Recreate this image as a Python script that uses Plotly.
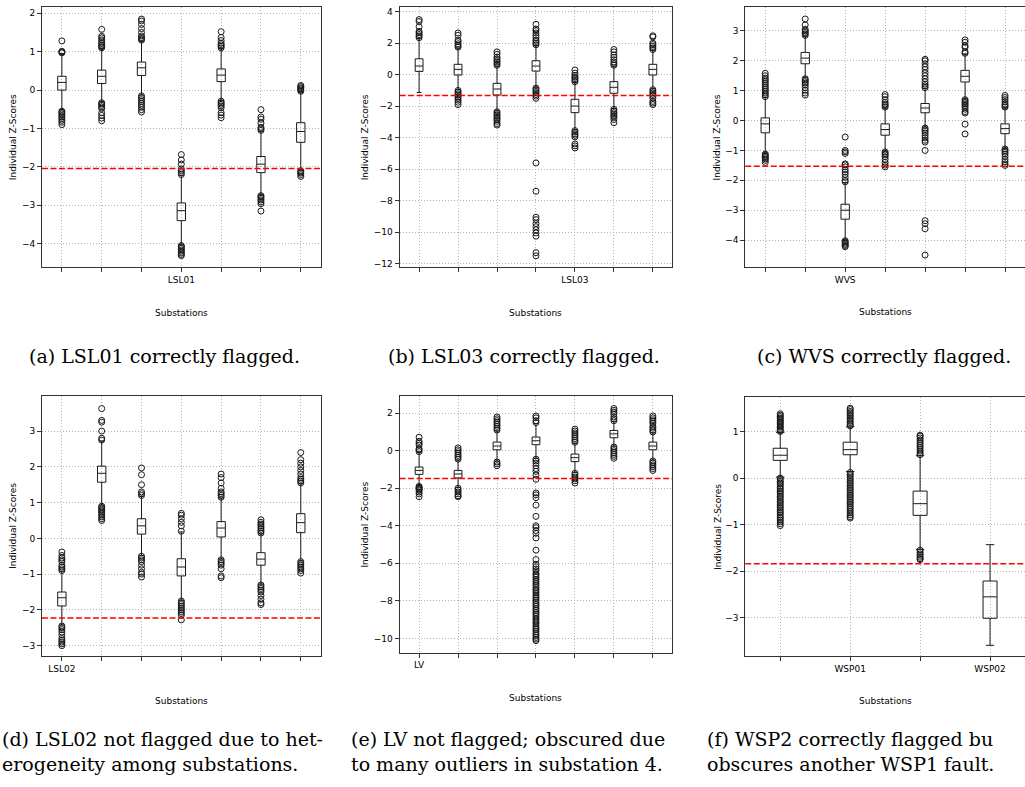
import plotly.graph_objects as go

# ---------------- data ----------------
# (a) LSL01
A_POS = [1, 2, 3, 4, 5, 6, 7]
A_TICKS = ["", "", "", "LSL01", "", "", ""]
A_Q1 = [0.00, 0.17, 0.38, -3.40, 0.22, -2.15, -1.36]
A_MED = [0.20, 0.36, 0.58, -3.14, 0.39, -1.93, -1.08]
A_Q3 = [0.36, 0.52, 0.73, -2.94, 0.55, -1.73, -0.85]
A_LO = [-0.52, -0.31, -0.13, -4.03, -0.27, -2.73, -2.08]
A_HI = [0.95, 1.08, 1.28, -2.22, 1.08, -1.07, -0.05]
A_OUT = [
    [0.97, 0.99, 1.01, 1.28, -0.55, -0.58, -0.62, -0.66, -0.70, -0.74, -0.79, -0.84, -0.90],
    [1.10, 1.13, 1.17, 1.21, 1.26, 1.31, 1.36, 1.40, 1.58, -0.33, -0.36, -0.40, -0.44, -0.48, -0.59, -0.66, -0.73, -0.80],
    [1.30, 1.33, 1.37, 1.41, 1.50, 1.60, 1.71, 1.80, 1.85, -0.15, -0.20, -0.25, -0.30, -0.35, -0.40, -0.45, -0.51, -0.57],
    [-2.20, -2.15, -2.10, -2.05, -1.93, -1.82, -1.68, -4.05, -4.08, -4.12, -4.16, -4.20, -4.24, -4.28, -4.31],
    [1.10, 1.14, 1.18, 1.22, 1.29, 1.37, 1.52, -0.29, -0.33, -0.37, -0.41, -0.46, -0.59, -0.65, -0.72],
    [-1.05, -1.01, -0.97, -0.86, -0.76, -0.70, -0.51, -2.75, -2.78, -2.82, -2.86, -2.91, -2.96, -3.15],
    [-0.03, 0.00, 0.03, 0.06, 0.09, 0.12, -2.10, -2.13, -2.16, -2.20, -2.25],
]
A_THR = -2.04

# (b) LSL03
B_POS = [1, 2, 3, 4, 5, 6, 7]
B_TICKS = ["", "", "", "", "LSL03", "", ""]
B_Q1 = [0.21, -0.02, -1.29, 0.23, -2.41, -1.18, -0.02]
B_MED = [0.55, 0.34, -0.91, 0.55, -1.99, -0.80, 0.34]
B_Q3 = [1.01, 0.66, -0.55, 0.89, -1.56, -0.44, 0.66]
B_LO = [-1.13, -0.95, -2.30, -0.80, -3.50, -2.15, -0.90]
B_HI = [2.30, 1.70, 0.55, 1.85, -0.50, 0.55, 1.55]
B_OUT = [
    [2.35, 2.45, 2.55, 2.66, 2.75, 3.05, 3.38, 3.50],
    [1.75, 1.85, 1.96, 2.10, 2.20, 2.50, 2.65, -1.00, -1.10, -1.21, -1.30, -1.41, -1.50, -1.62, -1.75, -1.90],
    [0.60, 0.70, 0.81, 0.90, 1.01, 1.12, 1.30, 1.45, -2.35, -2.45, -2.56, -2.65, -2.76, -2.85, -2.96, -3.10, -3.20],
    [1.90, 2.00, 2.11, 2.20, 2.35, 2.50, 2.65, 2.80, 2.90, 3.20, -0.85, -0.95, -1.06, -1.15, -1.26, -1.36, -1.50,
     -5.60, -7.40, -9.05, -9.20, -9.45, -9.65, -9.85, -10.05, -10.25, -11.30, -11.50],
    [-0.45, -0.35, -0.25, -0.16, -0.05, 0.10, 0.30, -3.55, -3.65, -3.76, -3.85, -3.95, -4.40, -4.52, -4.65],
    [0.60, 0.70, 0.81, 0.95, 1.10, 1.25, 1.45, 1.60, -2.20, -2.30, -2.41, -2.50, -2.61, -2.70, -2.85, -3.05],
    [1.60, 1.70, 1.80, 1.91, 2.00, 2.40, 2.47, -0.95, -1.05, -1.16, -1.25, -1.36, -1.50, -1.70, -1.80, -1.90],
]
B_THR = -1.32

# (c) WVS
C_POS = [1, 2, 3, 4, 5, 6, 7]
C_TICKS = ["", "", "WVS", "", "", "", ""]
C_Q1 = [-0.41, 1.90, -3.30, -0.49, 0.26, 1.29, -0.44]
C_MED = [-0.11, 2.09, -3.00, -0.30, 0.42, 1.48, -0.27]
C_Q3 = [0.09, 2.28, -2.80, -0.11, 0.57, 1.68, -0.11]
C_LO = [-1.10, 1.45, -4.00, -1.03, -0.22, 0.72, -0.93]
C_HI = [0.78, 2.83, -2.07, 0.43, 1.08, 2.23, 0.43]
C_OUT = [
    [0.80, 0.86, 0.92, 0.99, 1.05, 1.11, 1.17, 1.24, 1.30, 1.36, 1.42, 1.50, 1.58, -1.12, -1.16, -1.20, -1.24, -1.28, -1.33, -1.40],
    [2.85, 2.90, 2.95, 3.00, 3.05, 3.20, 3.40, 1.40, 1.35, 1.30, 1.25, 1.19, 1.10, 1.01, 0.92, 0.85],
    [-2.05, -2.00, -1.90, -1.80, -1.72, -1.65, -1.55, -1.48, -1.45, -1.10, -1.05, -1.00, -0.55, -4.02, -4.06, -4.10, -4.14, -4.18, -4.22],
    [0.45, 0.50, 0.55, 0.61, 0.70, 0.80, 0.87, -1.05, -1.10, -1.15, -1.21, -1.30, -1.40, -1.49, -1.55],
    [1.10, 1.16, 1.22, 1.30, 1.40, 1.50, 1.60, 1.71, 1.80, 1.90, 2.00, 2.05, -0.25, -0.30, -0.36, -0.42, -0.50, -0.58,
     -0.66, -0.72, -1.00, -3.35, -3.45, -3.62, -4.50],
    [2.25, 2.30, 2.45, 2.50, 2.62, 2.70, 0.70, 0.65, 0.60, 0.55, 0.50, 0.45, 0.38, 0.30, 0.25, -0.12, -0.45],
    [0.45, 0.50, 0.55, 0.62, 0.70, 0.77, 0.84, -0.95, -1.00, -1.06, -1.12, -1.20, -1.30, -1.38, -1.45, -1.50],
]
C_THR = -1.53

# (d) LSL02
D_POS = [1, 2, 3, 4, 5, 6, 7]
D_TICKS = ["LSL02", "", "", "", "", "", ""]
D_Q1 = [-1.89, 1.57, 0.12, -1.05, 0.04, -0.75, 0.16]
D_MED = [-1.66, 1.82, 0.35, -0.80, 0.29, -0.58, 0.44]
D_Q3 = [-1.50, 2.02, 0.55, -0.57, 0.47, -0.40, 0.69]
D_LO = [-2.42, 0.93, -0.48, -1.73, -0.58, -1.28, -0.63]
D_HI = [-0.92, 2.72, 1.18, 0.18, 1.13, 0.13, 1.53]
D_OUT = [
    [-0.90, -0.85, -0.80, -0.75, -0.65, -0.60, -0.55, -0.48, -0.38, -2.45, -2.50, -2.55, -2.62, -2.70, -2.80, -2.85, -2.90, -2.95, -3.00],
    [2.75, 2.80, 3.00, 3.25, 3.30, 3.63, 0.90, 0.86, 0.82, 0.78, 0.74, 0.70, 0.65, 0.60, 0.55, 0.50],
    [1.20, 1.25, 1.30, 1.50, 1.78, 1.97, -0.50, -0.55, -0.60, -0.65, -0.75, -0.85, -0.95, -1.00, -1.08],
    [0.20, 0.35, 0.45, 0.55, 0.65, 0.70, -1.75, -1.80, -1.85, -1.90, -1.95, -2.00, -2.05, -2.10, -2.15, -2.28],
    [1.15, 1.20, 1.25, 1.30, 1.40, 1.55, 1.70, 1.80, -0.60, -0.65, -0.70, -0.75, -0.85, -1.05, -1.10],
    [0.15, 0.20, 0.25, 0.30, 0.35, 0.40, 0.45, 0.52, -1.30, -1.35, -1.40, -1.45, -1.50, -1.60, -1.70, -1.80, -1.85],
    [1.55, 1.60, 1.65, 1.70, 1.80, 1.90, 2.00, 2.10, 2.20, 2.40, -0.65, -0.70, -0.75, -0.80, -0.85, -0.90, -0.97],
]
D_THR = -2.23

# (e) LV
E_POS = [1, 2, 3, 4, 5, 6, 7]
E_TICKS = ["LV", "", "", "", "", "", ""]
E_Q1 = [-1.26, -1.45, 0.05, 0.32, -0.58, 0.69, 0.05]
E_MED = [-1.05, -1.24, 0.25, 0.53, -0.37, 0.90, 0.25]
E_Q3 = [-0.87, -1.05, 0.46, 0.73, -0.18, 1.08, 0.46]
E_LO = [-1.85, -1.95, -0.55, -0.40, -1.15, 0.25, -0.50]
E_HI = [-0.10, -0.50, 1.05, 1.45, 0.40, 1.55, 0.95]
E_OUT = [
    [-0.05, 0.05, 0.10, 0.30, 0.40, 0.50, 0.72, -1.90, -1.95, -2.00, -2.05, -2.10, -2.20, -2.30, -2.45],
    [-0.45, -0.35, -0.25, -0.15, -0.05, 0.05, 0.15, -2.00, -2.10, -2.20, -2.30, -2.40, -2.45],
    [1.10, 1.20, 1.30, 1.40, 1.50, 1.60, 1.70, 1.80, -0.60, -0.70, -0.80],
    [1.50, 1.60, 1.75, 1.85, -0.45, -0.55, -0.66, -0.80, -0.95, -1.10, -1.30, -1.52, -2.25, -2.35, -2.50, -2.90,
     -3.50, -4.00, -4.10, -4.25, -4.40, -4.65, -5.30, -5.80, -6.05, -6.18, -6.30, -6.41, -6.55, -6.63, -6.74,
     -6.86, -6.95, -7.07, -7.16, -7.28, -7.39, -7.47, -7.58, -7.69, -7.80, -7.88, -7.99, -8.10, -8.21, -8.30,
     -8.42, -8.51, -8.62, -8.70, -8.81, -8.93, -9.02, -9.13, -9.22, -9.34, -9.45, -9.53, -9.64, -9.75, -9.84,
     -9.95, -10.04, -10.12],
    [0.45, 0.55, 0.65, 0.75, 0.85, 0.95, 1.05, 1.15, -1.20, -1.30, -1.40, -1.50, -1.60, -1.72],
    [1.60, 1.70, 1.80, 1.95, 2.05, 2.15, 2.25, 0.20, 0.10, 0.00, -0.10, -0.20, -0.30, -0.40],
    [1.00, 1.10, 1.20, 1.30, 1.45, 1.55, 1.65, 1.75, 1.85, -0.55, -0.65, -0.75, -0.85, -0.95, -1.05],
]
E_THR = -1.48

# (f) WSP
F_POS = [1, 2, 3, 4]
F_TICKS = ["", "WSP01", "", "WSP02"]
F_Q1 = [0.38, 0.50, -0.80, -3.01]
F_MED = [0.49, 0.61, -0.55, -2.55]
F_Q3 = [0.64, 0.77, -0.28, -2.21]
F_LO = [0.02, 0.14, -1.53, -3.59]
F_HI = [0.98, 1.10, 0.48, -1.43]
F_OUT = [
    [1.00, 1.02, 1.05, 1.09, 1.11, 1.14, 1.18, 1.20, 1.23, 1.27, 1.29, 1.32, 1.35, 1.38,
     0.00, -0.03, -0.07, -0.10, -0.13, -0.17, -0.21, -0.24, -0.28, -0.31, -0.35, -0.39, -0.42, -0.46, -0.50,
     -0.53, -0.57, -0.61, -0.64, -0.68, -0.72, -0.75, -0.79, -0.83, -0.86, -0.90, -0.94, -0.98, -1.02],
    [1.12, 1.15, 1.19, 1.22, 1.26, 1.29, 1.33, 1.36, 1.40, 1.43, 1.47, 1.50,
     0.12, 0.08, 0.05, 0.01, -0.03, -0.07, -0.10, -0.14, -0.18, -0.22, -0.25, -0.29, -0.33, -0.37, -0.40,
     -0.44, -0.48, -0.52, -0.55, -0.59, -0.63, -0.67, -0.71, -0.75, -0.79, -0.83, -0.86],
    [0.50, 0.54, 0.58, 0.62, 0.66, 0.70, 0.74, 0.78, 0.82, 0.86, 0.90, 0.92,
     -1.55, -1.59, -1.63, -1.66, -1.70, -1.73, -1.75],
    [],
]
F_THR = -1.84

CAPTIONS_TOP = ["(a) LSL01 correctly flagged.", "(b) LSL03 correctly flagged.", "(c) WVS correctly flagged."]
CAPTIONS_BOTTOM = [
    ["(d) LSL02 not flagged due to het-", "erogeneity among substations."],
    ["(e) LV not flagged; obscured due", "to many outliers in substation 4."],
    ["(f) WSP2 correctly flagged bu", "obscures another WSP1 fault."],
]
X_TITLE = "Substations"
Y_TITLE = "Individual Z-Scores"

# ---------------- layout constants ----------------
W, H = 1026, 787   # one column wider than the window so the far-right spine falls off-screen
# plot area in pixels: left, right, top, bottom
AREAS = [(42, 321, 7, 268), (400, 673, 7, 268), (746, 1026, 7.3, 267.7),
         (42, 321, 396.7, 657.7), (400, 673, 397.3, 654.3), (746, 1026, 398, 657.7)]
YRANGES = [(-4.616, 2.164), (-12.23, 4.30), (-4.90, 3.79), (-3.29, 3.99), (-10.76, 2.90), (-3.82, 1.74)]
DTICKS = [1, 2, 1, 1, 2, 1]
BOXW = [0.21, 0.2, 0.21, 0.21, 0.2, 0.2]

panels = [
    (A_POS, A_TICKS, A_Q1, A_MED, A_Q3, A_LO, A_HI, A_OUT, A_THR),
    (B_POS, B_TICKS, B_Q1, B_MED, B_Q3, B_LO, B_HI, B_OUT, B_THR),
    (C_POS, C_TICKS, C_Q1, C_MED, C_Q3, C_LO, C_HI, C_OUT, C_THR),
    (D_POS, D_TICKS, D_Q1, D_MED, D_Q3, D_LO, D_HI, D_OUT, D_THR),
    (E_POS, E_TICKS, E_Q1, E_MED, E_Q3, E_LO, E_HI, E_OUT, E_THR),
    (F_POS, F_TICKS, F_Q1, F_MED, F_Q3, F_LO, F_HI, F_OUT, F_THR),
]

SANS = "DejaVu Sans"
SERIF = "DejaVu Serif"
INK = "#1a1a1a"
GRID = "#b5b5b5"
FRAME = "#333333"

fig = go.Figure()
layout = dict(width=W, height=H, autosize=False, margin=dict(l=0, r=0, t=0, b=0),
              paper_bgcolor="white", plot_bgcolor="white", showlegend=False,
              font=dict(family=SANS, size=9, color="black"))
annotations = []
shapes = []

for i, (pos, ticks, q1, med, q3, lo, hi, outs, thr) in enumerate(panels):
    n = i + 1
    sfx = "" if n == 1 else str(n)
    xa, ya = "x" + sfx, "y" + sfx
    L, R, T, B = AREAS[i]

    fig.add_trace(go.Box(
        x=pos, q1=q1, median=med, q3=q3, lowerfence=lo, upperfence=hi,
        orientation="v", boxpoints=False, width=BOXW[i], whiskerwidth=0.6,
        line=dict(color=INK, width=1), fillcolor="rgba(255,255,255,0)",
        xaxis=xa, yaxis=ya, hoverinfo="skip", showlegend=False))

    ox, oy = [], []
    for p, vals in zip(pos, outs):
        ox += [p] * len(vals)
        oy += vals
    fig.add_trace(go.Scatter(
        x=ox, y=oy, mode="markers",
        marker=dict(symbol="circle-open", size=6, color=INK, line=dict(width=1, color=INK)),
        xaxis=xa, yaxis=ya, hoverinfo="skip", showlegend=False))

    shapes.append(dict(type="line", xref=xa + " domain", yref=ya, x0=0, x1=1, y0=thr, y1=thr,
                       line=dict(color="red", width=1.5, dash="6px,2.5px"), layer="above"))

    common = dict(showline=True, mirror=True, linecolor=FRAME, linewidth=1,
                  ticks="outside", ticklen=4, tickwidth=1, tickcolor=FRAME,
                  showgrid=True, gridcolor=GRID, gridwidth=1, griddash="1px,2px",
                  zeroline=False, tickfont=dict(family=SANS, size=9, color="black"),
                  fixedrange=True)
    layout["xaxis" + sfx] = dict(common, domain=[L / W, min(R / W, 1.0)], anchor=ya,
                                 range=[0.5, len(pos) + 0.5], tickmode="array",
                                 tickvals=pos, ticktext=ticks)
    layout["yaxis" + sfx] = dict(common, domain=[1 - B / H, 1 - T / H], anchor=xa,
                                 range=list(YRANGES[i]), tick0=0, dtick=DTICKS[i])

    # axis titles
    cx = (L + R) / 2 if i % 3 != 2 else 886
    annotations.append(dict(text=X_TITLE, xref="paper", yref="paper", x=cx / W,
                            y=1 - (B + 45.5) / H, xanchor="center", yanchor="middle",
                            showarrow=False, font=dict(family=SANS, size=9, color="black")))
    ytx = L - 29 if i % 3 == 0 else L - 34.5 if i % 3 == 1 else L - 28
    annotations.append(dict(text=Y_TITLE, xref="paper", yref="paper", x=ytx / W,
                            y=1 - ((T + B) / 2) / H, xanchor="center", yanchor="middle",
                            textangle=-90, showarrow=False,
                            font=dict(family=SANS, size=9, color="black")))

# captions
top_cx = [165, 525, 885]
for cx, txt in zip(top_cx, CAPTIONS_TOP):
    annotations.append(dict(text=txt, xref="paper", yref="paper", x=cx / W, y=1 - 356.5 / H,
                            xanchor="center", yanchor="middle", showarrow=False,
                            font=dict(family=SERIF, size=19, color="black")))
bot_lx = [0, 349, 706]
for lx, lines in zip(bot_lx, CAPTIONS_BOTTOM):
    for yb, txt in zip([740.7, 766.1], lines):
        annotations.append(dict(text=txt, xref="paper", yref="paper", x=lx / W, y=1 - yb / H,
                                xanchor="left", yanchor="middle", showarrow=False,
                                font=dict(family=SERIF, size=19, color="black")))

layout["annotations"] = annotations
layout["shapes"] = shapes
fig.update_layout(**layout)
fig.write_html("out.html", config={"displayModeBar": False},
               post_script="document.body.style.margin='0';document.body.style.overflow='hidden';")
